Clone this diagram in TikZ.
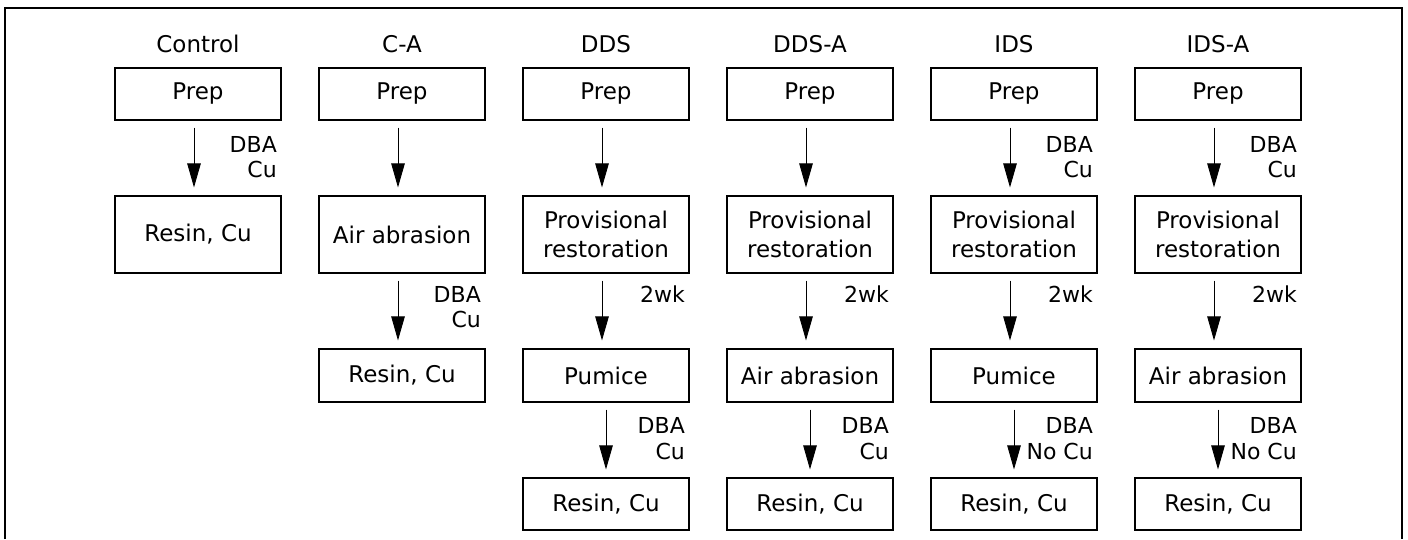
\documentclass[tikz,border=0pt]{standalone}
\usepackage{fontspec}
\setmainfont{DejaVu Sans}
\usetikzlibrary{arrows.meta}
\begin{document}
\begin{tikzpicture}[x=1pt,y=-1pt,
  every node/.style={font=\fontsize{23}{25}\selectfont},
  stepbox/.style={draw, line width=1.1pt, minimum width=166pt, inner sep=0pt, align=center,
                  font=\fontsize{23}{29}\selectfont},
  rowA/.style={stepbox, minimum height=52pt},
  rowB/.style={stepbox, minimum height=77pt},
  rowC/.style={stepbox, minimum height=53pt},
  rowD/.style={stepbox, minimum height=52pt},
  ttl/.style={anchor=base, inner sep=0pt},
  lab/.style={anchor=base east, inner sep=0pt, font=\fontsize{22}{25}\selectfont},
  flow/.style={line width=0.9pt, -{Triangle[length=24pt,width=13.5pt]}, shorten <=7pt, shorten >=8pt}
]
\useasboundingbox (0,0) rectangle (1408,539);
\fill[white] (0,0) rectangle (1408,539);
\draw[line width=1.4pt] (5,539) -- (5,8) -- (1402,8) -- (1402,539);

% titles
\node[ttl] (t1) at (198,52) {Control};
\node[ttl] (t2) at (402,52) {C-A};
\node[ttl] (t3) at (606,52) {DDS};
\node[ttl] (t4) at (810,52) {DDS-A};
\node[ttl] (t5) at (1014,52) {IDS};
\node[ttl] (t6) at (1218,52) {IDS-A};

% row 1
\node[rowA] (b11) at (198,94) {Prep};
\node[rowA] (b21) at (402,94) {Prep};
\node[rowA] (b31) at (606,94) {Prep};
\node[rowA] (b41) at (810,94) {Prep};
\node[rowA] (b51) at (1014,94) {Prep};
\node[rowA] (b61) at (1218,94) {Prep};

% row 2
\node[rowB] (b12) at (198,234.5) {Resin, Cu};
\node[rowB] (b22) at (402,234.5) {Air abrasion};
\node[rowB] (b32) at (606,234.5) {Provisional\\restoration};
\node[rowB] (b42) at (810,234.5) {Provisional\\restoration};
\node[rowB] (b52) at (1014,234.5) {Provisional\\restoration};
\node[rowB] (b62) at (1218,234.5) {Provisional\\restoration};

% row 3
\node[rowC] (b23) at (402,375.5) {Resin, Cu};
\node[rowC] (b33) at (606,375.5) {Pumice};
\node[rowC] (b43) at (810,375.5) {Air abrasion};
\node[rowC] (b53) at (1014,375.5) {Pumice};
\node[rowC] (b63) at (1218,375.5) {Air abrasion};

% row 4
\node[rowD] (b34) at (606,504) {Resin, Cu};
\node[rowD] (b44) at (810,504) {Resin, Cu};
\node[rowD] (b54) at (1014,504) {Resin, Cu};
\node[rowD] (b64) at (1218,504) {Resin, Cu};

% arrows 1 -> 2
\foreach \c in {1,...,6}{
  \draw[flow] ([xshift=-4pt]b\c1.south) -- ([xshift=-4pt]b\c2.north);
}
% arrows 2 -> 3
\foreach \c in {2,...,6}{
  \draw[flow] ([xshift=-4pt]b\c2.south) -- ([xshift=-4pt]b\c3.north);
}
% arrows 3 -> 4
\foreach \c in {3,...,6}{
  \draw[flow] (b\c3.south) -- (b\c4.north);
}

% labels 1 -> 2
\node[lab] (l1a) at (277,152) {DBA};
\node[lab] (l1b) at (277,177) {Cu};
\node[lab] (l5a) at (1093,152) {DBA};
\node[lab] (l5b) at (1093,177) {Cu};
\node[lab] (l6a) at (1297,152) {DBA};
\node[lab] (l6b) at (1297,177) {Cu};

% labels 2 -> 3
\node[lab] (m2a) at (481,302) {DBA};
\node[lab] (m2b) at (481,327) {Cu};
\node[lab] (m3) at (685,302) {2wk};
\node[lab] (m4) at (889,302) {2wk};
\node[lab] (m5) at (1093,302) {2wk};
\node[lab] (m6) at (1297,302) {2wk};

% labels 3 -> 4
\node[lab] (n3a) at (685,433) {DBA};
\node[lab] (n3b) at (685,459) {Cu};
\node[lab] (n4a) at (889,433) {DBA};
\node[lab] (n4b) at (889,459) {Cu};
\node[lab] (n5a) at (1093,433) {DBA};
\node[lab] (n5b) at (1093,459) {No Cu};
\node[lab] (n6a) at (1297,433) {DBA};
\node[lab] (n6b) at (1297,459) {No Cu};
\end{tikzpicture}
\end{document}
